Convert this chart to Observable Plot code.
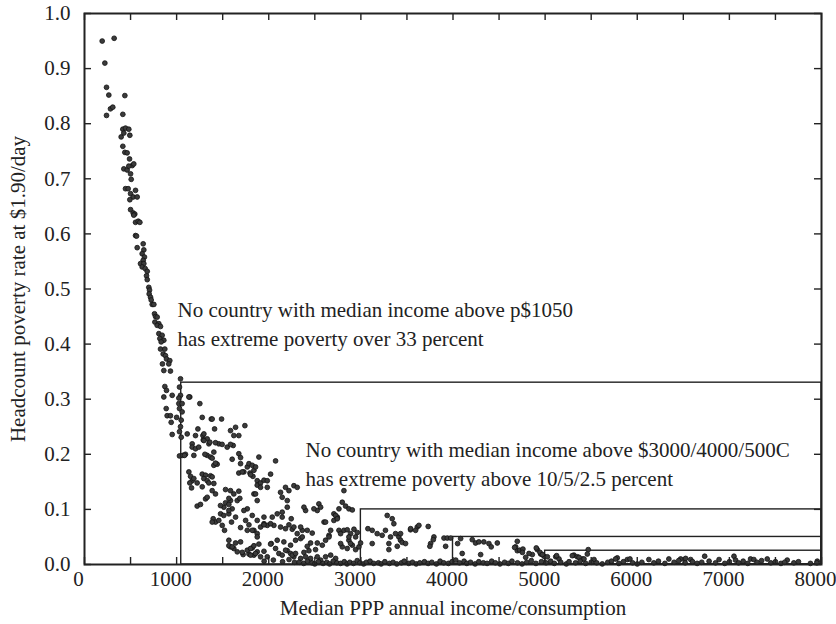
<!DOCTYPE html>
<html>
<head>
<meta charset="utf-8">
<script src="https://cdn.jsdelivr.net/npm/d3@7"></script>
<script src="https://cdn.jsdelivr.net/npm/@observablehq/plot@0.6"></script>
<style>
  body { margin: 0; background: #fff; }
  svg { display: block; }
  svg text { font-family: 'Liberation Serif' !important; }
</style>
</head>
<body>
<div id="chart"></div>
<script>
// Countries as [median PPP annual income, headcount poverty rate at $1.90/day]

// Poorest countries: the steep part of the curve
const steepCountries = [
  [192,0.950],[322,0.955],[221,0.910],[239,0.866],[264,0.852],[239,0.815],[282,0.827],[307,0.830],[438,0.851],[416,0.817],
  [398,0.776],[416,0.790],[445,0.792],[481,0.790],[492,0.779],[427,0.783],[416,0.759],[438,0.748],[463,0.747],[489,0.736],
  [427,0.718],[463,0.716],[500,0.709],[518,0.724],[535,0.727],[481,0.723],[507,0.699],[445,0.682],[474,0.682],[554,0.679],
  [500,0.673],[528,0.667],[572,0.667],[492,0.662],[500,0.644],[528,0.638],[546,0.636],[535,0.634],[554,0.621],[583,0.623],
  [601,0.621],[554,0.597],[565,0.596],[572,0.575],[637,0.582],[644,0.571],[626,0.564],[651,0.558],[637,0.552],[608,0.546],
  [644,0.546],[626,0.540],[659,0.537],[681,0.532],[673,0.524],[681,0.517],[698,0.503],[706,0.498],[702,0.491],[717,0.485],
  [724,0.480],[735,0.472],[753,0.472],[760,0.455],[771,0.450],[789,0.449],[764,0.440],[807,0.437],[789,0.434],[825,0.432],
  [807,0.419],[843,0.416],[818,0.410],[861,0.407],[832,0.404],[825,0.391],[872,0.391],[854,0.382],[879,0.379],[890,0.373],
  [926,0.370],[915,0.364],[846,0.364],[861,0.352],[933,0.351],[872,0.323],[890,0.316],[861,0.304],[952,0.307],[887,0.283],
  [897,0.270],[933,0.270],[941,0.258],[952,0.236],
  [1042,0.337],[1031,0.322],[1042,0.307],[1024,0.292],[1060,0.292],[1031,0.283],[1060,0.277],[1042,0.250],[1031,0.241],
  [1050,0.231],[1031,0.197],[1067,0.198],[1096,0.200],[1024,0.302],[1000,0.267],[1050,0.262],[1085,0.198]
];

// Lower-middle incomes: the wide cloud between 1,050 and 3,000
const middleCountries = [
  [1143,0.304],[1252,0.292],[1133,0.304],[1115,0.237],[1169,0.219],[1205,0.234],[1231,0.246],[1278,0.267],[1285,0.234],[1289,0.226],
  [1332,0.228],[1350,0.219],[1376,0.264],[1412,0.246],[1488,0.264],[1458,0.219],[1549,0.213],[1585,0.243],[1614,0.216],[1640,0.249],
  [1621,0.234],[1675,0.234],[1741,0.252],[1169,0.213],[1205,0.210],[1240,0.213],[1133,0.168],[1151,0.160],[1169,0.152],[1143,0.148],
  [1187,0.156],[1162,0.139],[1223,0.148],[1278,0.164],[1314,0.162],[1295,0.156],[1332,0.152],[1350,0.148],[1368,0.161],[1404,0.180],
  [1440,0.182],[1332,0.198],[1307,0.200],[1368,0.195],[1404,0.204],[1223,0.106],[1259,0.109],[1314,0.119],[1386,0.134],[1422,0.128],
  [1397,0.083],[1422,0.077],[1458,0.080],[1477,0.092],[1513,0.104],[1531,0.112],[1531,0.136],[1585,0.134],[1621,0.128],[1585,0.116],
  [1567,0.109],[1603,0.101],[1658,0.116],[1675,0.133],[1686,0.120],[1567,0.092],[1640,0.086],[1596,0.077],[1495,0.071],[1520,0.062],
  [1694,0.183],[1675,0.166],[1730,0.168],[1767,0.177],[1785,0.183],[1821,0.180],[1839,0.171],[1796,0.166],[1857,0.177],[1893,0.195],
  [1828,0.160],[1875,0.152],[1875,0.144],[1911,0.148],[1948,0.153],[1984,0.152],[2020,0.164],[2074,0.188],[1984,0.140],[1839,0.128],
  [1875,0.116],[1767,0.101],[1821,0.089],[1875,0.080],[1749,0.080],[1767,0.062],[1839,0.062],[1911,0.068],[1948,0.074],[1984,0.071],
  [2038,0.086],[2056,0.071],[2092,0.092],[2146,0.095],[2201,0.104],[2244,0.083],[2128,0.131],[2182,0.140],[2219,0.134],[2273,0.143],
  [2309,0.140],[2146,0.122],[2201,0.116],[1386,0.264],[1296,0.237],[1361,0.222],[1296,0.225],[1422,0.221],[1494,0.218],[1585,0.218],
  [1187,0.198],[1386,0.193],[1422,0.184],[1603,0.191],[1675,0.201],[1694,0.194],[1386,0.159],[1404,0.147],[1278,0.141],[1712,0.168],
  [1803,0.163],[1567,0.120],[1476,0.107],[1567,0.098],[1512,0.089],[1386,0.077],[1332,0.122],[1730,0.098],[1857,0.128],[1911,0.140],
  [1948,0.086],[2020,0.074],[1948,0.072],[1785,0.072],[1694,0.067],[1821,0.062],[1875,0.056]
];

// Countries with poverty under 10 percent, up to 3,000
const lowPovertyCountries = [
  [1567,0.044],[1585,0.032],[1621,0.029],[1658,0.023],[1694,0.041],[1640,0.039],[1722,0.018],[1785,0.019],[1821,0.030],[1875,0.023],
  [1839,0.017],[1911,0.014],[1948,0.024],[1984,0.014],[2027,0.038],[2074,0.029],[2110,0.020],[2146,0.017],[2201,0.025],[2237,0.020],
  [2273,0.014],[2092,0.044],[2164,0.041],[2237,0.035],[2291,0.044],[1567,0.034],[1603,0.032],[1712,0.022],[1767,0.026],[1803,0.029],
  [1839,0.034],[1893,0.037],[1857,0.020],[1803,0.017],[1875,0.050],[2020,0.037],[2183,0.026],[2255,0.017],[2291,0.020],
  [2146,0.086],[2182,0.065],[2219,0.072],[2255,0.064],[2273,0.068],[2309,0.056],[2128,0.068],[2346,0.047],[2364,0.062],[2400,0.098],
  [2472,0.057],[2544,0.110],[2527,0.098],[2600,0.077],[2654,0.053],[2707,0.092],[2744,0.086],[2581,0.035],[2527,0.039],[2454,0.039],
  [2418,0.033],[2382,0.022],[2436,0.025],[2346,0.011],[2400,0.014],[2454,0.011],[2527,0.014],[2563,0.008],[2617,0.014],[2672,0.017],
  [2726,0.011],[2346,0.068],[2364,0.050],[2418,0.062],[2382,0.104],[2490,0.101],[2563,0.104],[2508,0.027],[2617,0.044],[2654,0.050],
  [2672,0.062],[2617,0.077],[2707,0.080],[2726,0.089],[2744,0.083],[2762,0.101],[2798,0.113],[2816,0.134],[2834,0.106],[2870,0.101],
  [2907,0.099],[2762,0.062],[2780,0.056],[2816,0.062],[2852,0.063],[2889,0.056],[2925,0.064],[2961,0.058],[2943,0.050],[2870,0.044],
  [2798,0.032],[2852,0.029],[2907,0.035],[2943,0.027],[2979,0.032],[2780,0.038],[2888,0.038],[2997,0.039],[2870,0.050],
  [1950,0.006],[2050,0.008],[2150,0.005],[2220,0.009],[2280,0.004]
];

// Upper incomes: above 3,000
const upperCountries = [
  [3076,0.065],[3123,0.062],[3177,0.056],[3231,0.053],[3267,0.062],[3286,0.089],[3340,0.083],[3358,0.074],[3322,0.050],[3376,0.056],
  [3412,0.050],[3430,0.044],[3539,0.063],[3612,0.068],[3731,0.069],[3123,0.038],[3304,0.038],[3304,0.027],[3395,0.033],[3449,0.040],
  [3485,0.038],[3757,0.038],[3793,0.050],[3431,0.056],[3540,0.065],[3594,0.062],[3630,0.071],[3749,0.033],[3786,0.045],[3902,0.048],
  [3920,0.033],[3938,0.048],[3975,0.048],[4050,0.038],[4100,0.020],
  [4083,0.047],[4209,0.045],[4245,0.039],[4281,0.041],[4335,0.041],[4390,0.038],[4415,0.032],[4481,0.039],[4300,0.018],[4698,0.042],
  [4680,0.032],[4698,0.025],[4789,0.013],[4861,0.018],[4915,0.027],[4952,0.019],[4988,0.015],[5024,0.014],[4669,0.031],[4723,0.026],
  [4759,0.028],[4753,0.022],[4825,0.020],[4904,0.030],[4944,0.022],[4970,0.018],
  [5115,0.014],[5151,0.010],[5313,0.017],[5349,0.014],[5404,0.010],[5468,0.027],[5458,0.019],[5531,0.009],[5125,0.016],[5295,0.016],
  [5368,0.013],[5422,0.010],[5783,0.012],[5765,0.010],[5892,0.009],[5921,0.010],[6126,0.009],[6343,0.010],[6471,0.010],[6525,0.011],
  [6580,0.009],[6732,0.015],[6888,0.009],[7050,0.015],[7067,0.008],[7230,0.010],[7266,0.009],[7411,0.010],[7628,0.008],[7954,0.006]
];

// Countries with almost no extreme poverty
const nearZeroCountries = [
  [2330,0.004],[2380,0.002],[2420,0.006],[2470,0.003],[2500,0.001],[2540,0.005],[2590,0.002],[2630,0.004],[2660,0.001],[2700,0.006],
  [2740,0.003],[2780,0.002],[2820,0.005],[2850,0.001],[2880,0.004],[2920,0.002],[2960,0.007],[2990,0.003],[3030,0.001],[3060,0.004],
  [3100,0.006],[3140,0.002],[3190,0.003],[3220,0.001],[3260,0.005],[3310,0.002],[3350,0.004],[3390,0.001],[3440,0.003],[3470,0.006],
  [3520,0.002],[3560,0.004],[3600,0.001],[3640,0.003],[3690,0.005],[3730,0.002],[3770,0.004],[3820,0.001],[3860,0.006],[3900,0.003],
  [3950,0.002],[3990,0.005],[4030,0.008],[4070,0.003],[4120,0.006],[4150,0.002],[4190,0.004],[4240,0.001],[4280,0.005],[4330,0.003],
  [4370,0.002],[4420,0.006],[4460,0.003],[4510,0.001],[4560,0.004],[4600,0.002],[4640,0.006],[4700,0.003],[4750,0.001],[4800,0.004],
  [4850,0.007],[4900,0.002],[4960,0.005],[5010,0.003],[5060,0.006],[5100,0.002],[5170,0.004],[5230,0.001],[5260,0.005],[5330,0.003],
  [5380,0.006],[5440,0.002],[5500,0.004],[5560,0.003],[5620,0.001],[5680,0.004],[5720,0.006],[5800,0.002],[5850,0.005],[5950,0.003],
  [6000,0.001],[6050,0.004],[6180,0.003],[6230,0.006],[6300,0.002],[6400,0.004],[6450,0.007],[6520,0.003],[6600,0.005],[6650,0.002],
  [6700,0.004],[6780,0.006],[6850,0.003],[6950,0.002],[7000,0.005],[7100,0.003],[7150,0.006],[7200,0.002],[7300,0.004],[7350,0.007],
  [7450,0.003],[7500,0.005],[7560,0.002],[7600,0.004],[7700,0.003],[7750,0.005],[7880,0.002],[7950,0.003]
];

// Income thresholds and the poverty ceilings above them
const thresholdIncome = [1050, 3000, 4000, 5000];
const thresholdRate = [0.33, 0.10, 0.05, 0.025];

// Axis ticks
const xLabelTicks = [0, 1000, 2000, 3000, 4000, 5000, 6000, 7000, 8000];
const xMarkTicks = [0, 500, 1000, 1500, 2000, 2500, 3000, 3500, 4000, 4500, 5000, 5500, 6000, 6500, 7000, 7500, 8000];
const yLabelTicks = [0, 0.1, 0.2, 0.3, 0.4, 0.5, 0.6, 0.7, 0.8, 0.9, 1.0];

// Annotations: text, anchor income, anchor rate
const noteText = [
  "No country with median income above p$1050\nhas extreme poverty over 33 percent",
  "No country with median income above $3000/4000/500C\nhas extreme poverty above 10/5/2.5 percent"
];
const noteIncome = [1010, 2400];
const noteRate = [0.44, 0.186];

const xTitle = "Median PPP annual income/consumption";
const yTitle = "Headcount poverty rate at $1.90/day";

const countries = [
  ...steepCountries, ...middleCountries, ...lowPovertyCountries, ...upperCountries, ...nearZeroCountries
].map(([income, rate]) => ({income, rate}));

const boxes = thresholdIncome.map((income, i) => ({income, rate: thresholdRate[i]}));
const notes = noteText.map((text, i) => ({text, income: noteIncome[i], rate: noteRate[i]}));

const serif = "Liberation Serif";
const W = 836, H = 624;
const mL = 84, mR = 15, mT = 13, mB = 60;
const innerW = W - mL - mR, innerH = H - mT - mB;
const tickLen = 7;
const fs = 21;

const chart = Plot.plot({
  width: W,
  height: H,
  marginLeft: mL,
  marginRight: mR,
  marginTop: mT,
  marginBottom: mB,
  style: {fontFamily: serif, fontSize: fs + "px", color: "#222", background: "#fff", overflow: "visible"},
  x: {domain: [0, 8000], axis: null},
  y: {domain: [0, 1], axis: null},
  marks: [
    // threshold boxes, each running to the right edge and down to zero
    Plot.rect(boxes, {x1: "income", x2: 8000, y1: 0, y2: "rate", fill: "none", stroke: "#222", strokeWidth: 1.4}),
    Plot.dot(countries, {x: "income", y: "rate", r: 2.4, fill: "#3b3b3b", stroke: "#111", strokeWidth: 0.8}),
    Plot.text(notes, {x: "income", y: "rate", text: "text", textAnchor: "start", lineAnchor: "middle", lineHeight: 1.38, fontSize: fs, fontFamily: serif, fill: "#222"}),
    Plot.frame({stroke: "#222", strokeWidth: 2}),
    // inward tick marks on all four sides
    Plot.tickX(xMarkTicks, {x: d => d, insetTop: innerH - tickLen, stroke: "#222", strokeWidth: 1.4}),
    Plot.tickX(xMarkTicks, {x: d => d, insetBottom: innerH - tickLen, stroke: "#222", strokeWidth: 1.4}),
    Plot.tickY(yLabelTicks, {y: d => d, insetRight: innerW - tickLen, stroke: "#222", strokeWidth: 1.4}),
    Plot.tickY(yLabelTicks, {y: d => d, insetLeft: innerW - tickLen, stroke: "#222", strokeWidth: 1.4}),
    // tick labels
    Plot.axisX(xLabelTicks, {anchor: "bottom", tickSize: 0, tickPadding: 7, dx: -6, label: null, fontSize: fs, fontFamily: serif, tickFormat: d => String(d)}),
    Plot.axisY(yLabelTicks, {anchor: "left", tickSize: 0, tickPadding: 14, label: null, fontSize: fs, fontFamily: serif, tickFormat: d => d.toFixed(1)}),
    // axis titles
    Plot.text([xTitle], {frameAnchor: "bottom", textAnchor: "middle", lineAnchor: "middle", dy: 44, fontSize: fs, fontFamily: serif, fill: "#222"}),
    Plot.text([yTitle], {frameAnchor: "left", textAnchor: "middle", lineAnchor: "middle", dx: -66, rotate: -90, fontSize: fs, fontFamily: serif, fill: "#222"})
  ]
});

document.getElementById("chart").appendChild(chart);
</script>
</body>
</html>
